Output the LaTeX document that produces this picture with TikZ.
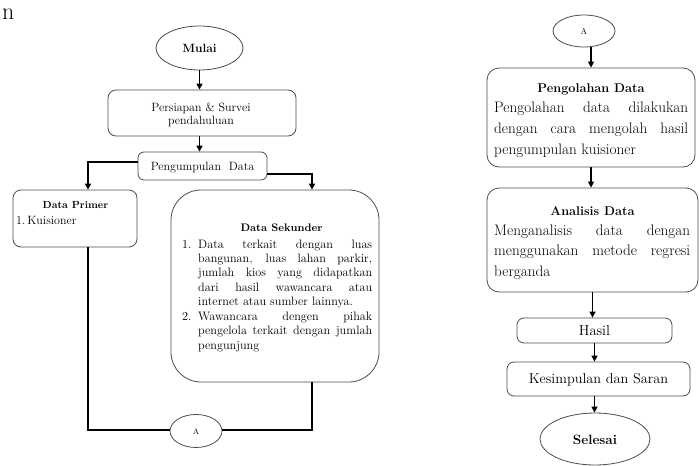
\documentclass[tikz,border=0pt]{standalone}
\usetikzlibrary{shapes.geometric,arrows.meta}
\newcommand{\cln}[1]{\hbox to 0pt{\hss#1\hss}}
\newcommand{\jst}[2]{\hbox{\makebox[#1][s]{#2}}}
\begin{document}
\begin{tikzpicture}[x=1pt,y=-1pt,
  box/.style={draw=black!70, line width=0.8pt, rounded corners=#1, inner sep=0pt},
  box/.default=7pt,
  oval/.style={ellipse, draw=black!70, line width=0.8pt, inner sep=0pt},
  conn/.style={line width=1.4pt, black},
  arr/.style={conn, -{Triangle[length=6pt,width=6pt]}},
  lbl/.style={inner sep=0pt, anchor=base}]
\useasboundingbox (0,0) rectangle (699,466);

% stray letter
\node[lbl, anchor=base west, font=\fontsize{24}{28}\selectfont] (nn) at (2,19) {n};

% ---------- left column ----------
\node[oval, minimum width=87pt, minimum height=44pt] (mulai) at (199.5,48) {};
\node[lbl, font=\fontsize{12}{14}\selectfont\bfseries] (tmulai) at (199.5,52) {Mulai};

\node[box=8pt, minimum width=188pt, minimum height=46pt] (persiapan) at (202,113) {};
\node[lbl, font=\fontsize{12}{13}\selectfont] (tpersiapan) at (201,111.5)
  {\vtop{\cln{Persiapan \& Survei}\cln{pendahuluan}}};

\node[box=6pt, minimum width=129pt, minimum height=28pt] (pengumpulan) at (202.5,166) {};
\node[lbl, font=\fontsize{12}{14}\selectfont] (tpengumpulan) at (202.5,170.5) {Pengumpulan\ \ Data};

\node[box=8pt, minimum width=124pt, minimum height=57pt] (primer) at (75,218.5) {};
\node[lbl, font=\fontsize{10.3}{12}\selectfont\bfseries] (tprimer) at (75.5,208.5) {Data Primer};
\node[lbl, anchor=base west, font=\fontsize{12}{14}\selectfont] (tkuis) at (16,224) {1.\,Kuisioner};

\node[box=30pt, minimum width=208pt, minimum height=192pt] (sekunder) at (275,286) {};
\node[lbl, font=\fontsize{10.9}{13}\selectfont\bfseries] (tsekunder) at (281.5,231) {Data Sekunder};
\node[lbl, anchor=base west, font=\fontsize{12.2}{14.45}\selectfont] (tseklist) at (182,248)
  {\vtop{%
   \hbox{\makebox[16pt][l]{1.}\makebox[174pt][s]{Data terkait dengan luas}}%
   \hbox{\hspace{16pt}\makebox[174pt][s]{bangunan, luas lahan parkir,}}%
   \hbox{\hspace{16pt}\makebox[174pt][s]{jumlah kios yang didapatkan}}%
   \hbox{\hspace{16pt}\makebox[174pt][s]{dari hasil wawancara atau}}%
   \hbox{\hspace{16pt}internet atau sumber lainnya.}%
   \hbox{\makebox[16pt][l]{2.}\makebox[174pt][s]{Wawancara dengen pihak}}%
   \hbox{\hspace{16pt}\makebox[174pt][s]{pengelola terkait dengan jumlah}}%
   \hbox{\hspace{16pt}pengunjung}}};

\node[oval, minimum width=52pt, minimum height=33pt] (a1) at (196,431) {};
\node[lbl, font=\fontsize{8}{9}\selectfont] (ta1) at (196,434) {A};

\draw[arr] (mulai.south) -- (mulai.south |- persiapan.north);
\draw[arr] (persiapan.south -| mulai.south) -- (mulai.south |- pengumpulan.north);
\draw[arr] ([yshift=4pt]pengumpulan.west) -| ([xshift=13pt]primer.north);
\draw[arr] ([yshift=-8pt]pengumpulan.east) -| ([xshift=37pt]sekunder.north);
\draw[conn] ([xshift=13pt]primer.south) |- ([yshift=1pt]a1.west);
\draw[conn] ([xshift=37pt]sekunder.south) |- ([yshift=1pt]a1.east);

% ---------- right column ----------
\node[oval, minimum width=62pt, minimum height=32pt] (a2) at (584,31) {};
\node[lbl, font=\fontsize{8.5}{10}\selectfont] (ta2) at (584,34) {A};

\node[box=12pt, minimum width=208pt, minimum height=99pt] (pengolahan) at (591,117.5) {};
\node[lbl, font=\fontsize{12.7}{15}\selectfont\bfseries] (tpengolahan) at (591,92) {Pengolahan Data};
\node[lbl, anchor=base west, font=\fontsize{15.2}{21}\selectfont] (bpengolahan) at (494,112)
  {\vtop{\jst{194pt}{Pengolahan data dilakukan}\jst{194pt}{dengan cara mengolah hasil}\hbox{pengumpulan kuisioner}}};

\node[box=12pt, minimum width=211pt, minimum height=104pt] (analisis) at (592.5,240) {};
\node[lbl, font=\fontsize{12.7}{15}\selectfont\bfseries] (tanalisis) at (592.5,215) {Analisis Data};
\node[lbl, anchor=base west, font=\fontsize{15.2}{20.5}\selectfont] (banalisis) at (494,235)
  {\vtop{\jst{196pt}{Menganalisis data dengan}\jst{196pt}{menggunakan metode regresi}\hbox{berganda}}};

\node[box=7pt, minimum width=155pt, minimum height=25pt] (hasil) at (594.5,330.5) {};
\node[lbl, font=\fontsize{14.5}{17}\selectfont] (thasil) at (594.5,335) {Hasil};

\node[box=7pt, minimum width=183pt, minimum height=34pt] (kesimpulan) at (598.5,379) {};
\node[lbl, font=\fontsize{14.3}{17}\selectfont] (tkesimpulan) at (598.5,383.5) {Kesimpulan dan Saran};

\node[oval, minimum width=110pt, minimum height=52pt] (selesai) at (595,439) {};
\node[lbl, font=\fontsize{13.5}{16}\selectfont\bfseries] (tselesai) at (595,444) {Selesai};

\draw[arr] (a2.south -| pengolahan.north) -- (pengolahan.north);
\draw[arr] (pengolahan.south) -- (pengolahan.south |- analisis.north);
\draw[arr] (analisis.south) -- (analisis.south |- hasil.north);
\draw[arr] (hasil.south) -- (hasil.south |- kesimpulan.north);
\draw[arr] (hasil.south |- kesimpulan.south) -- (hasil.south |- selesai.north);
\end{tikzpicture}
\end{document}
